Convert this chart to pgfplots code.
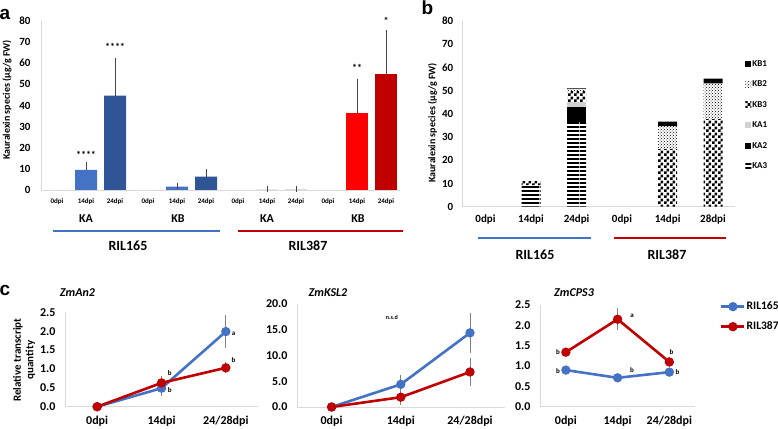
\documentclass[border=0pt]{standalone}
\usepackage{fontspec}
\setmainfont{Carlito}
\newfontfamily\arialfont{Liberation Sans}
\usepackage{pgfplots}
\pgfplotsset{compat=1.18}
\usetikzlibrary{patterns}
\definecolor{cblue}{RGB}{68,114,196}
\definecolor{cdblue}{RGB}{47,85,151}
\definecolor{cpale}{RGB}{214,220,229}
\definecolor{cred}{RGB}{255,0,0}
\definecolor{cdred}{RGB}{192,0,0}
\definecolor{axgray}{RGB}{217,217,217}
\definecolor{errgray}{RGB}{70,70,70}
\pgfdeclarepatternformonly{hthick}{\pgfqpoint{0pt}{0pt}}{\pgfqpoint{20pt}{3.5pt}}{\pgfqpoint{20pt}{3.5pt}}{%
  \pgfpathrectangle{\pgfqpoint{0pt}{0pt}}{\pgfqpoint{20pt}{2.1pt}}\pgfusepath{fill}}
\pgfdeclarepatternformonly{checker6}{\pgfqpoint{0pt}{0pt}}{\pgfqpoint{5.6pt}{5.6pt}}{\pgfqpoint{5.6pt}{5.6pt}}{%
  \pgfpathrectangle{\pgfqpoint{0pt}{0pt}}{\pgfqpoint{2.8pt}{2.8pt}}%
  \pgfpathrectangle{\pgfqpoint{2.8pt}{2.8pt}}{\pgfqpoint{2.8pt}{2.8pt}}\pgfusepath{fill}}
\tikzset{ann/.style={font=\bfseries\fontsize{7}{7}\selectfont},
  grp/.style={font=\bfseries\fontsize{12}{12}\selectfont},
  ril/.style={font=\bfseries\fontsize{14}{14}\selectfont},
  stars/.style={font=\bfseries\fontsize{10}{10}\selectfont}}
\pgfplotsset{
  base/.style={scale only axis, anchor=south west,
    axis x line*=bottom, axis y line*=left,
    axis line style={-, draw=axgray, line width=0.9pt},
    major tick length=0pt,
    /pgf/number format/assume math mode=true,
    clip=false},
  lineplot/.style={line width=2.6pt, mark=*, mark size=3.3pt, mark options={solid}},
}
\begin{document}
\begin{tikzpicture}[x=1pt,y=1pt]
\useasboundingbox (0,0) rectangle (778,428);

%%%%%%%%%%%%%%%% group lines and labels under panels a and b
\draw[draw={rgb,255:red,68;green,114;blue,196}, line width=2pt] (53,196.5) -- (220,196.5);
\draw[draw={rgb,255:red,192;green,0;blue,0}, line width=2pt] (238,196.5) -- (403,196.5);
\draw[draw={rgb,255:red,68;green,114;blue,196}, line width=2pt] (478,189.7) -- (591,189.7);
\draw[draw={rgb,255:red,192;green,0;blue,0}, line width=2pt] (614,189.7) -- (726,189.7);
\node[grp] at (86,209) {KA};
\node[grp] at (178,209) {KB};
\node[grp] at (267,209) {KA};
\node[grp] at (358,209) {KB};
\node[ril] at (128,182) {RIL165};
\node[ril] at (308,182) {RIL387};
\node[ril] at (535,173) {RIL165};
\node[ril] at (667,173) {RIL387};

%%%%%%%%%%%%%%%% panel a
\begin{axis}[base, at={(41pt,238pt)}, width=359pt, height=169pt,
  xmin=41, xmax=400, ymin=0, ymax=80,
  ytick={0,10,...,80},
  xtick={57,86,115,148,177,206,238,267,296,328,357,386},
  xticklabels={0dpi,14dpi,24dpi,0dpi,14dpi,24dpi,0dpi,14dpi,24dpi,0dpi,14dpi,24dpi},
  xticklabel style={font=\bfseries\fontsize{7}{7}\selectfont, yshift=-5pt},
  yticklabel style={font=\bfseries\fontsize{11}{11}\selectfont, xshift=-7pt},
  ]
\pgfplotsset{ebars/.style={error bars/.cd, y dir=plus, y explicit,
   error bar style={errgray, line width=0.8pt},
   error mark options={errgray, mark size=3pt, line width=0.8pt}}}
\addplot[ybar, bar width=22pt, bar shift=0pt, fill=cblue, draw=none, ebars]
  table[x=x, y=y, y error=e]{
x y e
86 9.5 2.3
177 1.6 0.3
};
\addplot[ybar, bar width=22pt, bar shift=0pt, fill=cdblue, draw=none, ebars]
  table[x=x, y=y, y error=e]{
x y e
115 44.7 16.4
206 6.3 2.1
};
\addplot[ybar, bar width=22pt, bar shift=0pt, fill=cpale, draw=none, ebars]
  table[x=x, y=y, y error=e]{
x y e
267 0.3 0.05
296 0.4 0.1
};
\addplot[ybar, bar width=22pt, bar shift=0pt, fill=cred, draw=none, ebars]
  table[x=x, y=y, y error=e]{
x y e
357 36.4 14.9
};
\addplot[ybar, bar width=22pt, bar shift=0pt, fill=cdred, draw=none, ebars]
  table[x=x, y=y, y error=e]{
x y e
386 55.0 19.5
};
\node[stars] at (axis cs:86,16.5) {****};
\node[stars] at (axis cs:115,67.5) {****};
\node[stars] at (axis cs:357,58) {**};
\node[stars] at (axis cs:386,80) {*};
\end{axis}

%%%%%%%%%%%%%%%% panel b
\begin{axis}[base, at={(462.7pt,221.3pt)}, width=272.3pt, height=185.7pt,
  xmin=462.7, xmax=735, ymin=0, ymax=80,
  ybar stacked, bar width=19pt,
  ytick={0,10,...,80},
  xtick={485.5,531,576.6,622,667.6,713},
  xticklabels={0dpi,14dpi,24dpi,0dpi,14dpi,28dpi},
  xticklabel style={font=\bfseries\fontsize{11}{11}\selectfont, yshift=-5pt},
  yticklabel style={font=\bfseries\fontsize{11}{11}\selectfont, xshift=-6pt},
  reverse legend,
  legend style={at={(1.026,0.494)}, anchor=west, draw=none, fill=none,
    font=\bfseries\fontsize{9}{9}\selectfont, row sep=10.5pt,
    nodes={inner sep=1pt, text height=6.5pt, text depth=1.5pt}},
  legend image code/.code={\path[#1] (0pt,-3pt) rectangle (6pt,3pt);},
  ]
\addplot[draw=none, pattern=hthick] coordinates {(485.5,0) (531,9.3) (576.6,36.6) (622,0) (667.6,0) (713,0)};
\addplot[draw=none, fill=black] coordinates {(485.5,0) (531,0) (576.6,6.4) (622,0) (667.6,0) (713,0)};
\addplot[draw=none, fill=black!18] coordinates {(485.5,0) (531,0) (576.6,1.9) (622,0) (667.6,0) (713,0)};
\addplot[draw=none, pattern=checker6] coordinates {(485.5,0) (531,1.7) (576.6,5.0) (622,0) (667.6,24.8) (713,37.7)};
\addplot[draw=none, pattern=crosshatch dots] coordinates {(485.5,0) (531,0) (576.6,1.0) (622,0) (667.6,9.9) (713,15.4)};
\addplot[draw=none, fill=black] coordinates {(485.5,0) (531,0) (576.6,0.2) (622,0) (667.6,1.9) (713,2.1)};
\legend{KA3,KA2,KA1,KB3,KB2,KB1}
\end{axis}

%%%%%%%%%%%%%%%% panel c
\pgfplotsset{cerr/.style={error bars/.cd, y dir=both, y explicit,
   error bar style={gray, line width=0.8pt},
   error mark options={gray, mark size=2.6pt, line width=0.8pt}},
  caxis/.style={base, xmin=-0.5, xmax=2.5, ymin=0,
   xtick={0,1,2}, xticklabels={0dpi,14dpi,24/28dpi},
   xticklabel style={font=\bfseries\fontsize{12}{12}\selectfont, yshift=-6pt},
   yticklabel style={font=\bfseries\fontsize{12}{12}\selectfont, xshift=-6pt},
   /pgf/number format/.cd, fixed, fixed zerofill, precision=1}}
\begin{axis}[caxis, at={(65pt,21.3pt)}, width=193pt, height=94.4pt,
  ymax=2.5, ytick={0,0.5,...,2.5}]
\addplot[lineplot, color=cblue, cerr] table[x=x,y=y,y error=e]{
x y e
0 0 0
1 0.49 0.15
2 1.99 0.36
};
\addplot[lineplot, color=cdred, cerr] table[x=x,y=y,y error=e]{
x y e
0 0 0
1 0.63 0.12
2 1.03 0.08
};
\node[ann] at (axis cs:1.13,0.90) {b};
\node[ann] at (axis cs:1.13,0.44) {b};
\node[ann] at (axis cs:2.12,1.94) {a};
\node[ann] at (axis cs:2.12,1.24) {b};
\end{axis}

\begin{axis}[caxis, at={(297pt,21pt)}, width=207.6pt, height=103pt,
  ymax=20, ytick={0,5,...,20}]
\addplot[lineplot, color=cblue, cerr] table[x=x,y=y,y error=e]{
x y e
0 0 0
1 4.4 1.4
2 14.4 3.4
};
\addplot[lineplot, color=cdred, cerr] table[x=x,y=y,y error=e]{
x y e
0 0 0
1 1.9 1.1
2 6.8 2.25
};
\node[font=\bfseries\fontsize{6}{6}\selectfont] at (axis cs:0.87,17.3) {n.s.d};
\end{axis}

\begin{axis}[caxis, at={(540pt,21.3pt)}, width=155.2pt, height=101.7pt,
  ymax=2.5, ytick={0,0.5,...,2.5},
  legend style={at={(1.14,0.885)}, anchor=west, draw=none, fill=none,
    font=\bfseries\fontsize{11.5}{11.5}\selectfont, row sep=9pt,
    nodes={inner sep=1pt, text height=7.5pt, text depth=1.5pt}},
  legend image code/.code={\draw[mark repeat=2, mark phase=2, #1] plot coordinates {(0pt,0pt) (11.5pt,0pt) (23pt,0pt)};},
  ]
\addplot[lineplot, color=cblue, cerr] table[x=x,y=y,y error=e]{
x y e
0 0.90 0.03
1 0.71 0.04
2 0.85 0.03
};
\addplot[lineplot, color=cdred, cerr] table[x=x,y=y,y error=e]{
x y e
0 1.34 0.04
1 2.15 0.21
2 1.10 0.05
};
\legend{RIL165,RIL387}
\node[ann] at (axis cs:-0.15,1.34) {b};
\node[ann] at (axis cs:-0.15,0.88) {b};
\node[ann] at (axis cs:1.28,2.24) {a};
\node[ann] at (axis cs:1.28,0.90) {b};
\node[ann] at (axis cs:2.04,1.34) {b};
\node[ann] at (axis cs:2.16,0.85) {b};
\end{axis}

%%%%%%%%%%%%%%%% annotations
\node[font=\arialfont\bfseries\fontsize{19}{19}\selectfont, anchor=base] at (5,408) {a};
\node[font=\arialfont\bfseries\fontsize{19}{19}\selectfont, anchor=base] at (427.5,413) {b};
\node[font=\arialfont\bfseries\fontsize{19}{19}\selectfont, anchor=base] at (5,132) {c};

\node[rotate=90, font=\bfseries\fontsize{10}{10}\selectfont] at (7,328) {Kauralexin species (µg/g FW)};
\node[rotate=90, font=\bfseries\fontsize{10}{10}\selectfont] at (432.5,305) {Kauralexin species (µg/g FW)};
\node[rotate=90, align=center, font=\bfseries\fontsize{11}{12.5}\selectfont] at (24,68) {Relative transcript\\quantity};

\node[font=\bfseries\itshape\fontsize{12}{12}\selectfont] at (77.5,135) {ZmAn2};
\node[font=\bfseries\itshape\fontsize{12}{12}\selectfont] at (328,135) {ZmKSL2};
\node[font=\bfseries\itshape\fontsize{12}{12}\selectfont] at (574,135) {ZmCPS3};
\end{tikzpicture}
\end{document}
